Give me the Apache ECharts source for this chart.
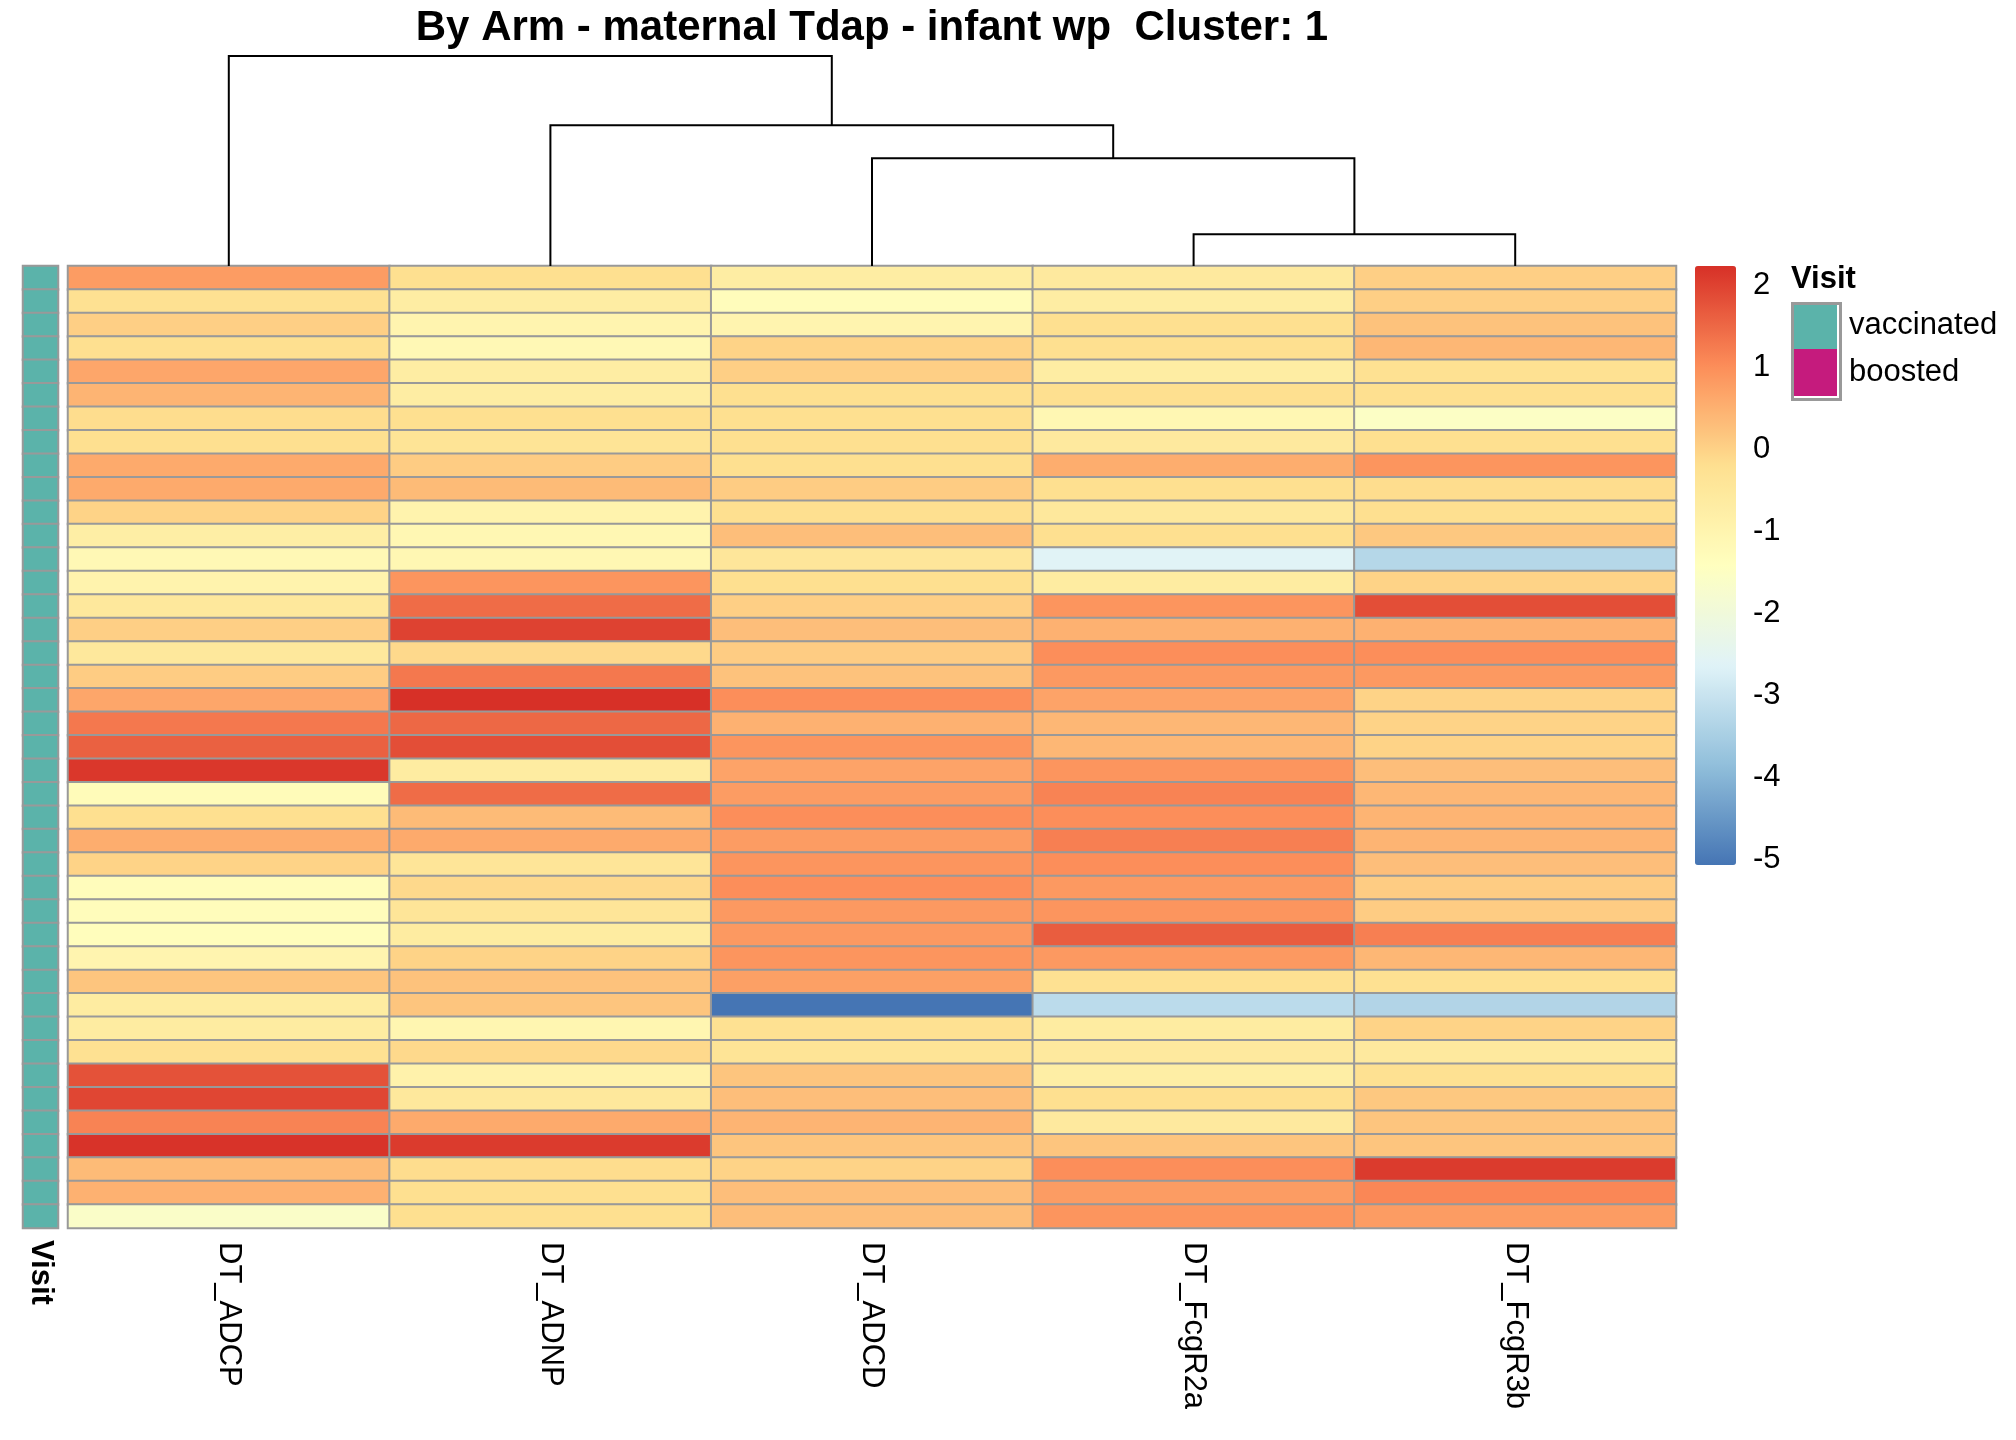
<!DOCTYPE html>
<html>
<head>
<meta charset="utf-8">
<script src="https://cdn.jsdelivr.net/npm/echarts@6/dist/echarts.min.js"></script>
<style>
  html, body { margin: 0; padding: 0; background: #fff; }
  #chart { width: 2016px; height: 1440px; }
</style>
</head>
<body>
<div id="chart"></div>
<script>
// columns in dendrogram order
const columns = ['DT_ADCP', 'DT_ADNP', 'DT_ADCD', 'DT_FcgR2a', 'DT_FcgR3b']

// scaled values per sample (41 rows, top to bottom)
const adcp = [0.8, -0.25, 0.05, -0.2, 0.65, 0.45, -0.15, -0.2, 0.6, 0.6, 0.0, -0.75, -1.15, -0.95, -0.5, 0.05, -0.5, 0.1, 0.65, 1.3, 1.6, 2.15, -1.25, -0.2, 0.55, 0.0, -1.3, -1.3, -1.35, -1.0, 0.2, -0.65, -0.65, -0.25, 1.8, 1.95, 1.15, 2.2, 0.35, 0.5, -1.6]
const adnp = [-0.2, -0.7, -1.0, -1.15, -0.7, -0.7, -0.2, -0.35, 0.1, 0.35, -0.95, -1.1, -1.1, 0.9, 1.45, 2.0, -0.1, 1.3, 2.24, 1.5, 1.85, -0.65, 1.45, 0.35, 0.6, -0.4, -0.1, -0.4, -0.65, 0.0, 0.25, 0.2, -1.05, -0.1, -0.9, -0.5, 0.6, 2.1, -0.15, -0.2, -0.2]
const adcd = [-0.7, -1.3, -1.0, 0.0, 0.05, -0.2, -0.2, -0.2, -0.2, 0.1, -0.2, 0.3, -0.45, -0.2, 0.05, 0.3, 0.1, 0.25, 1.0, 0.5, 0.9, 0.7, 0.8, 1.0, 0.8, 0.9, 1.0, 0.85, 0.85, 0.9, 0.75, -5.07, -0.25, -0.35, 0.2, 0.3, 0.45, 0.2, 0.0, 0.3, 0.3]
const fcgr2a = [-0.55, -0.7, -0.2, -0.2, -0.7, -0.2, -1.1, -0.55, 0.55, -0.2, -0.5, -0.2, -2.6, -0.65, 0.9, 0.5, 1.0, 0.85, 0.7, 0.4, 0.4, 0.9, 1.15, 1.0, 1.2, 1.0, 0.85, 0.9, 1.65, 0.85, -0.25, -3.2, -0.65, -0.55, -0.75, -0.2, -0.55, 0.2, 1.0, 0.8, 0.9]
const fcgr3b = [0.05, 0.05, 0.25, 0.4, -0.25, -0.2, -1.55, -0.2, 0.9, -0.15, -0.2, 0.15, -3.3, 0.0, 1.85, 0.5, 1.0, 0.85, 0.0, 0.0, 0.0, 0.3, 0.4, 0.45, 0.45, 0.3, 0.1, 0.1, 1.2, 0.4, -0.25, -3.35, 0.0, -0.55, -0.25, 0.15, 0.2, 0.2, 2.1, 1.1, 0.8]

// annotation: visit of every row
const visitLevels = ['vaccinated', 'boosted']
const visit = Array(41).fill('vaccinated')

// column dendrogram (hclust style merges: negative = leaf, positive = earlier merge)
const merges = [[-4, -5], [-3, 1], [-2, 2], [-1, 3]]
const mergeHeights = [1.51, 5.13, 6.70, 10.0]

// colour bar
const colorTicks = [-5, -4, -3, -2, -1, 0, 1, 2]
const colorMin = -5.07
const colorMax = 2.24
const palette = ['#4575B4', '#91BFDB', '#E0F3F8', '#FFFFBF', '#FEE090', '#FC8D59', '#D73027']

const FONT = 'Liberation Sans, Arial, sans-serif'

// 1. heatmap data
const valueCols = [adcp, adnp, adcd, fcgr2a, fcgr3b]
const heatData = []
valueCols.forEach((col, ci) => {
  col.forEach((v, ri) => heatData.push([ci, ri, v]))
})
const rowIdx = visit.map((_, i) => String(i))
const annoData = visit.map((v, i) => [0, i, visitLevels.indexOf(v)])

// 2. dendrogram segments
const nodeX = []
const nodeH = []
const dendroData = merges.map((m, k) => {
  const pos = m.map(id => id < 0 ? -id - 0.5 : nodeX[id - 1])
  const hts = m.map(id => id < 0 ? 0 : nodeH[id - 1])
  nodeX.push((pos[0] + pos[1]) / 2)
  nodeH.push(mergeHeights[k])
  return [pos[0], pos[1], hts[0], hts[1], mergeHeights[k]]
})

const gridTop = 266
const gridH = 962

const option = {
  animation: false,
  textStyle: { fontFamily: FONT, color: '#000' },
  title: [
    {
      text: 'By Arm - maternal Tdap - infant wp  Cluster: 1',
      left: 872, top: 7, textAlign: 'center', padding: 0,
      textStyle: { fontSize: 42, fontWeight: 'bold', fontFamily: FONT, color: '#000' },
    },
    {
      text: 'Visit', left: 1791, top: 264, padding: 0,
      textStyle: { fontSize: 31, fontWeight: 'bold', fontFamily: FONT, color: '#000' },
    },
  ],
  grid: [
    { left: 68, top: gridTop, width: 1608, height: gridH },   // heatmap
    { left: 23, top: gridTop, width: 35, height: gridH },     // annotation
    { left: 68, top: 56, width: 1608, height: 210 },          // dendrogram
    { left: 1695, top: 266, width: 41, height: 599 },         // colour bar labels
  ],
  xAxis: [
    {
      type: 'category', gridIndex: 0, data: columns, position: 'bottom',
      axisLine: { show: false }, axisTick: { show: false },
      axisLabel: { rotate: -90, margin: 14, fontSize: 31, fontFamily: FONT, color: '#000' },
    },
    {
      type: 'category', gridIndex: 1, data: ['Visit'], position: 'bottom',
      axisLine: { show: false }, axisTick: { show: false },
      axisLabel: { rotate: -90, margin: 12, fontSize: 31, fontWeight: 'bold', fontFamily: FONT, color: '#000' },
    },
    { type: 'value', gridIndex: 2, min: 0, max: 5, show: false },
    { type: 'value', gridIndex: 3, min: 0, max: 1, show: false },
  ],
  yAxis: [
    { type: 'category', gridIndex: 0, data: rowIdx, inverse: true, show: false },
    { type: 'category', gridIndex: 1, data: rowIdx, inverse: true, show: false },
    { type: 'value', gridIndex: 2, min: 0, max: 10, show: false },
    {
      type: 'value', gridIndex: 3, min: colorMin, max: colorMax, position: 'right',
      axisLine: { show: false }, axisTick: { show: false }, splitLine: { show: false },
      axisLabel: { customValues: colorTicks, margin: 17, fontSize: 31, fontFamily: FONT, color: '#000' },
    },
  ],
  visualMap: [
    {
      type: 'continuous', seriesIndex: 0, dimension: 2,
      min: colorMin, max: colorMax, calculable: false,
      inRange: { color: palette },
      left: 1695, top: 266, itemWidth: 41, itemHeight: 599, padding: 0,
      text: null, hoverLink: false,
    },
    {
      type: 'piecewise', seriesIndex: 1, dimension: 2,
      pieces: [
        { value: 0, label: 'vaccinated', color: '#5BB3AA' },
        { value: 1, label: 'boosted', color: '#C51B7D' },
      ],
      inverse: true, align: 'left',
      left: 1791, top: 302, itemWidth: 46, itemHeight: 47, itemGap: 0, itemSymbol: 'rect',
      textGap: 12, padding: 0, hoverLink: false, selectedMode: false,
      textStyle: { fontSize: 31, fontFamily: FONT, color: '#000' },
    },
  ],
  graphic: [
    {
      type: 'rect', left: 1790, top: 301, silent: true, z: 100,
      shape: { width: 48, height: 96 },
      style: { fill: 'none', stroke: '#999999', lineWidth: 3 },
    },
  ],
  series: [
    {
      type: 'heatmap', xAxisIndex: 0, yAxisIndex: 0, data: heatData,
      itemStyle: { borderColor: '#999999', borderWidth: 2 },
      emphasis: { disabled: true },
    },
    {
      type: 'heatmap', xAxisIndex: 1, yAxisIndex: 1, data: annoData,
      itemStyle: { borderColor: '#999999', borderWidth: 2 },
      emphasis: { disabled: true },
    },
    {
      type: 'custom', xAxisIndex: 2, yAxisIndex: 2, data: dendroData,
      renderItem: (params, api) => {
        const x1 = api.value(0), x2 = api.value(1)
        const h1 = api.value(2), h2 = api.value(3), h = api.value(4)
        return {
          type: 'polyline',
          shape: { points: [api.coord([x1, h1]), api.coord([x1, h]), api.coord([x2, h]), api.coord([x2, h2])] },
          style: { fill: 'none', stroke: '#000', lineWidth: 2 },
        }
      },
      silent: true,
    },
    { type: 'scatter', xAxisIndex: 3, yAxisIndex: 3, data: [], silent: true },
  ],
}

const chart = echarts.init(document.getElementById('chart'))
chart.setOption(option)
</script>
</body>
</html>
